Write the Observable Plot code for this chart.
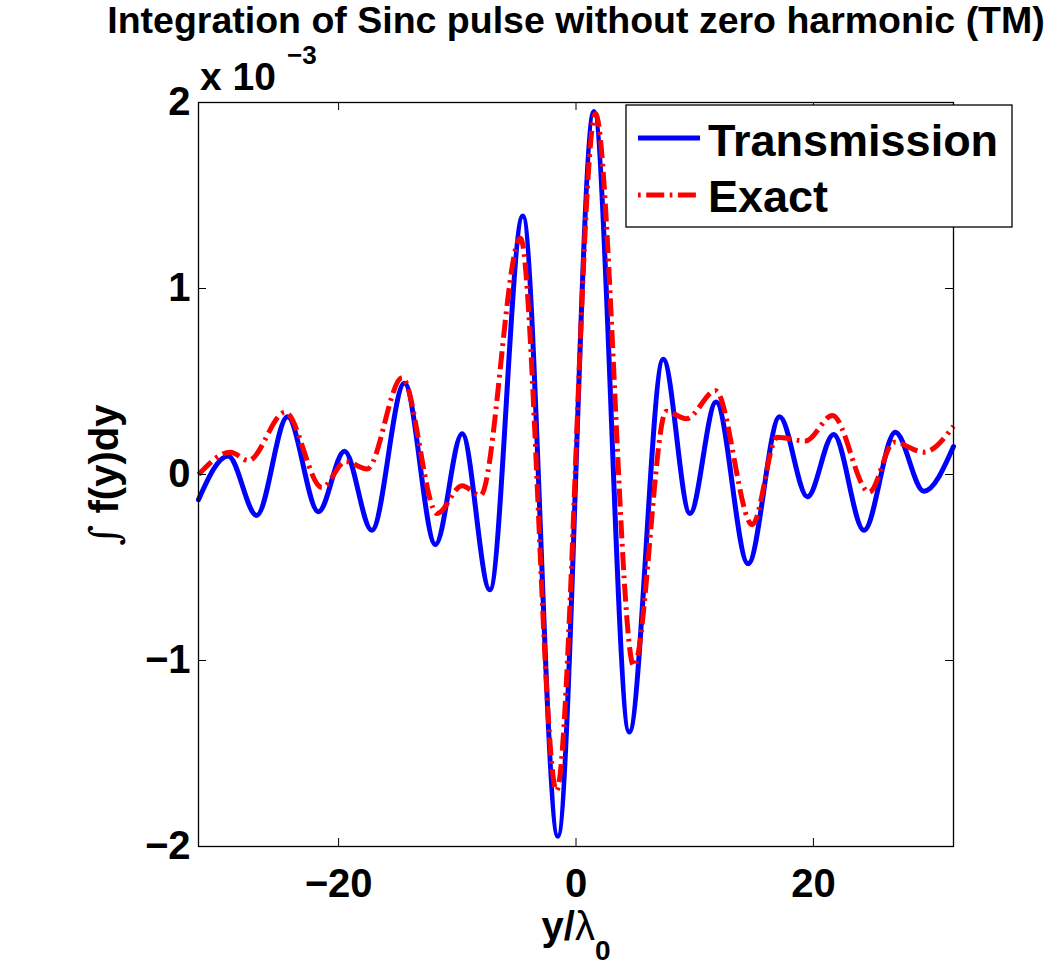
<!DOCTYPE html>
<html><head><meta charset="utf-8">
<script src="https://cdn.jsdelivr.net/npm/d3@7"></script>
<script src="https://cdn.jsdelivr.net/npm/@observablehq/plot@0.6"></script>
<style>body{margin:0;background:#fff}</style>
</head><body><div id="chart"></div>
<script>
// y/lambda0 positions and integral values (x 10^-3)
const transX = [-31.8, -29.3, -26.9, -24.3, -21.7, -19.5, -17.2, -14.45, -11.84, -9.59, -7.26, -4.48, -1.53, 1.5, 4.48, 7.35, 9.6, 11.8, 14.5, 17.15, 19.5, 21.7, 24.26, 26.9, 29.3, 31.8];
const transV = [-0.135, 0.10, -0.22, 0.31, -0.20, 0.125, -0.30, 0.49, -0.376, 0.219, -0.62, 1.39, -1.945, 1.952, -1.385, 0.62, -0.21, 0.39, -0.48, 0.31, -0.12, 0.215, -0.30, 0.227, -0.09, 0.15];
const exactX = [-31.8, -29.1, -27.6, -24.5, -21.4, -19.4, -17.6, -14.65, -11.7, -9.6, -8.05, -4.68, -1.64, 1.64, 4.87, 7.6, 9.3, 11.76, 14.85, 16.95, 19.34, 21.6, 24.7, 26.8, 29.3, 31.8];
const exactV = [0.0, 0.12, 0.075, 0.335, -0.07, 0.07, 0.03, 0.52, -0.21, -0.06, -0.113, 1.27, -1.70, 1.94, -1.03, 0.34, 0.30, 0.45, -0.27, 0.20, 0.18, 0.317, -0.095, 0.174, 0.12, 0.26];
const xTicks = [-20, 0, 20];
const yTicks = [-2, -1, 0, 1, 2];
const seriesNames = ["Transmission", "Exact"];
const titleText = "Integration of Sinc pulse without zero harmonic (TM)";

const trans = transX.map((x, i) => ({x, v: transV[i]}));
const exact = exactX.map((x, i) => ({x, v: exactV[i]}));

const W = 1053, H = 973, ML = 198, MR = 100, MT = 102, MB = 127;
const frameH = H - MT - MB, frameW = W - ML - MR;
const FONT = "'Liberation Sans', Arial, Helvetica, sans-serif";
const redDash = "18,5.5,2.7,5.5";
const fmt = d => (d < 0 ? "\u2212" + (-d) : String(d));

const plot = Plot.plot({
  width: W, height: H,
  marginLeft: ML, marginRight: MR, marginTop: MT, marginBottom: MB,
  x: {domain: [-31.8, 31.8]},
  y: {domain: [-2, 2]},
  style: {fontFamily: FONT, fontSize: "40px", fontWeight: "bold", background: "white", overflow: "visible", color: "black"},
  marks: [
    Plot.line(trans, {x: "x", y: "v", stroke: "#0000ff", strokeWidth: 5, curve: "monotone-x"}),
    Plot.line(exact, {x: "x", y: "v", stroke: "#ff0000", strokeWidth: 5, strokeDasharray: redDash, strokeLinecap: "butt", strokeLinejoin: "miter", curve: "monotone-x"}),
    Plot.frame({stroke: "black", strokeWidth: 1.3}),
    Plot.tickX(xTicks, {x: d => d, insetTop: frameH - 8, stroke: "black"}),
    Plot.tickX(xTicks, {x: d => d, insetBottom: frameH - 8, stroke: "black"}),
    Plot.tickY(yTicks, {y: d => d, insetRight: frameW - 8, stroke: "black"}),
    Plot.tickY(yTicks, {y: d => d, insetLeft: frameW - 8, stroke: "black"}),
    Plot.axisX({ticks: xTicks, tickFormat: fmt, tickSize: 0, tickPadding: 22, fontSize: 40, fontWeight: "bold", label: null}),
    Plot.axisY({ticks: yTicks, tickFormat: fmt, tickSize: 0, tickPadding: 8, fontSize: 40, fontWeight: "bold", label: null})
  ]
});

const svg = d3.select(plot);
function txt(sel, x, y, size, anchor) {
  return sel.append("text").attr("x", x).attr("y", y).attr("text-anchor", anchor)
    .attr("font-family", FONT).attr("font-size", size).attr("font-weight", "bold").attr("fill", "black");
}
// title
txt(svg, 576, 33, 37.5, "middle").text(titleText);
// exponent
txt(svg, 200, 90, 39, "start").text("x 10");
txt(svg, 287, 64, 26, "start").text("\u22123");
// x label
const xl = txt(svg, 576, 940, 40, "middle");
xl.append("tspan").text("y/");
xl.append("tspan").attr("font-weight", "normal").text("\u03bb");
xl.append("tspan").attr("font-size", 28).attr("dy", 20).text("0");
// y label
const yl = svg.append("text").attr("transform", "translate(118,475) rotate(-90)").attr("text-anchor", "middle")
  .attr("font-family", FONT).attr("font-size", 40).attr("font-weight", "bold").attr("fill", "black");
yl.append("tspan").attr("font-family", "'DejaVu Serif', serif").attr("font-weight", "normal").text("\u222b");
yl.append("tspan").text(" f(y)dy");
// legend
const lg = svg.append("g");
lg.append("rect").attr("x", 626).attr("y", 105).attr("width", 386).attr("height", 122)
  .attr("fill", "white").attr("stroke", "black").attr("stroke-width", 1.3);
lg.append("line").attr("x1", 638).attr("x2", 700).attr("y1", 138).attr("y2", 138)
  .attr("stroke", "#0000ff").attr("stroke-width", 5);
lg.append("line").attr("x1", 638).attr("x2", 700).attr("y1", 195).attr("y2", 195)
  .attr("stroke", "#ff0000").attr("stroke-width", 5).attr("stroke-dasharray", redDash).attr("stroke-dashoffset", 23.5);
txt(lg, 708, 156, 45, "start").text(seriesNames[0]);
txt(lg, 708, 212, 45, "start").text(seriesNames[1]);

document.getElementById("chart").appendChild(plot);
</script>
</body></html>
